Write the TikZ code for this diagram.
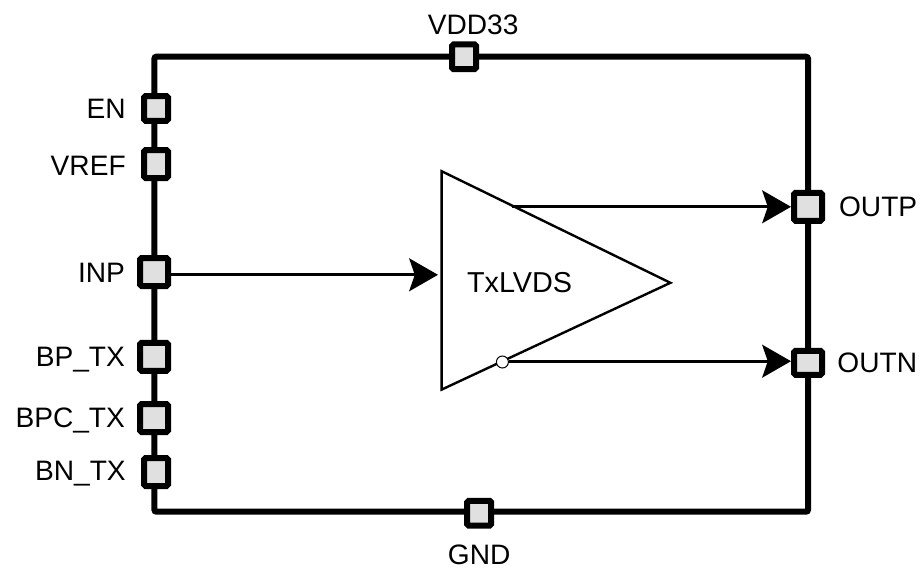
\documentclass[tikz,border=0pt]{standalone}
\usepackage{fontspec}
\setmainfont{Liberation Sans}
\usepackage{xcolor}
\usepackage{tikz}
\usetikzlibrary{arrows.meta, positioning}
\definecolor{padgray}{HTML}{E0E0E0}

\begin{document}
\begin{tikzpicture}[y=-1cm]
    \tikzset{chip/.style = {shape=rectangle,draw,line width=0.15cm,rounded corners=0.05cm,minimum width=16.34cm,minimum height=11.375cm}}
    \tikzset{pad/.style = {shape=rectangle,draw,fill=padgray,line width=0.15cm,rounded corners=0.04cm,minimum width=0.7cm,minimum height=0.7cm}}
    \tikzset{padsmall/.style = {pad,minimum width=0.6cm,minimum height=0.62cm}}
    \tikzset{pinlabel/.style = {inner sep=0pt,font=\fontsize{20}{24}\selectfont}}
    \tikzset{edge/.style = {-{Stealth[length=0.72cm,width=0.82cm,inset=0.14cm]},line width=0.075cm}}
    \useasboundingbox (0,0) rectangle (23.075,14.4);
    % block outline
    \node[chip] (chip) at (12.03,7.105) {};
    % amplifier
    \coordinate (ampTop) at (11.04,4.28);
    \coordinate (ampBot) at (11.04,9.74);
    \coordinate (ampTip) at (16.76,7.07);
    \draw[line width=0.06cm,line join=miter] (ampTop) -- (ampTip) -- (ampBot) -- cycle;
    \node[inner sep=0pt,font=\fontsize{20.5}{24}\selectfont] (amp) at (12.99,7.07) {TxLVDS};
    \node[shape=circle,draw,fill=white,line width=0.025cm,inner sep=0pt,minimum size=0.3cm] (bubble) at (12.56,9.05) {};
    \coordinate (inTip) at (10.95,6.87);
    \coordinate (outpStart) at (12.8,5.17);
    % pads
    \node[padsmall] (vdd) at (11.6,1.42) {};
    \node[padsmall] (gnd) at (11.98,12.83) {};
    \node[padsmall] (en) at (3.9,2.71) {};
    \node[padsmall,minimum height=0.7cm] (vref) at (3.9,4.1) {};
    \node[pad] (inp) at (3.85,6.8) {};
    \node[pad] (bptx) at (3.85,8.92) {};
    \node[pad] (bpctx) at (3.85,10.45) {};
    \node[padsmall,minimum height=0.7cm] (bntx) at (3.9,11.8) {};
    \node[pad] (outp) at (20.2,5.17) {};
    \node[pad,minimum height=0.6cm] (outn) at (20.2,9.07) {};
    % edges
    \draw[edge] (inp.east |- inTip) to (inTip);
    \draw[edge] (outpStart) to (outp.west);
    \draw[edge] (bubble.east |- 0,9.03) to (outn.west |- 0,9.03);
    % labels
    \node[pinlabel] (vddLabel) at (11.83,0.62) {VDD33};
    \node[pinlabel] (gndLabel) at (11.98,13.87) {GND};
    \node[pinlabel,anchor=east] (enLabel) at (3.15,2.71) {EN};
    \node[pinlabel,anchor=east] (vrefLabel) at (3.15,4.15) {VREF};
    \node[pinlabel,anchor=east] (inpLabel) at (3.13,6.82) {INP};
    \node[pinlabel,anchor=east] (bptxLabel) at (3.13,8.98) {BP\_TX};
    \node[pinlabel,anchor=east] (bpctxLabel) at (3.13,10.5) {BPC\_TX};
    \node[pinlabel,anchor=east] (bntxLabel) at (3.15,11.85) {BN\_TX};
    \node[pinlabel,anchor=west] (outpLabel) at (20.97,5.17) {OUTP};
    \node[pinlabel,anchor=west] (outnLabel) at (20.93,9.07) {OUTN};
\end{tikzpicture}
\end{document}
